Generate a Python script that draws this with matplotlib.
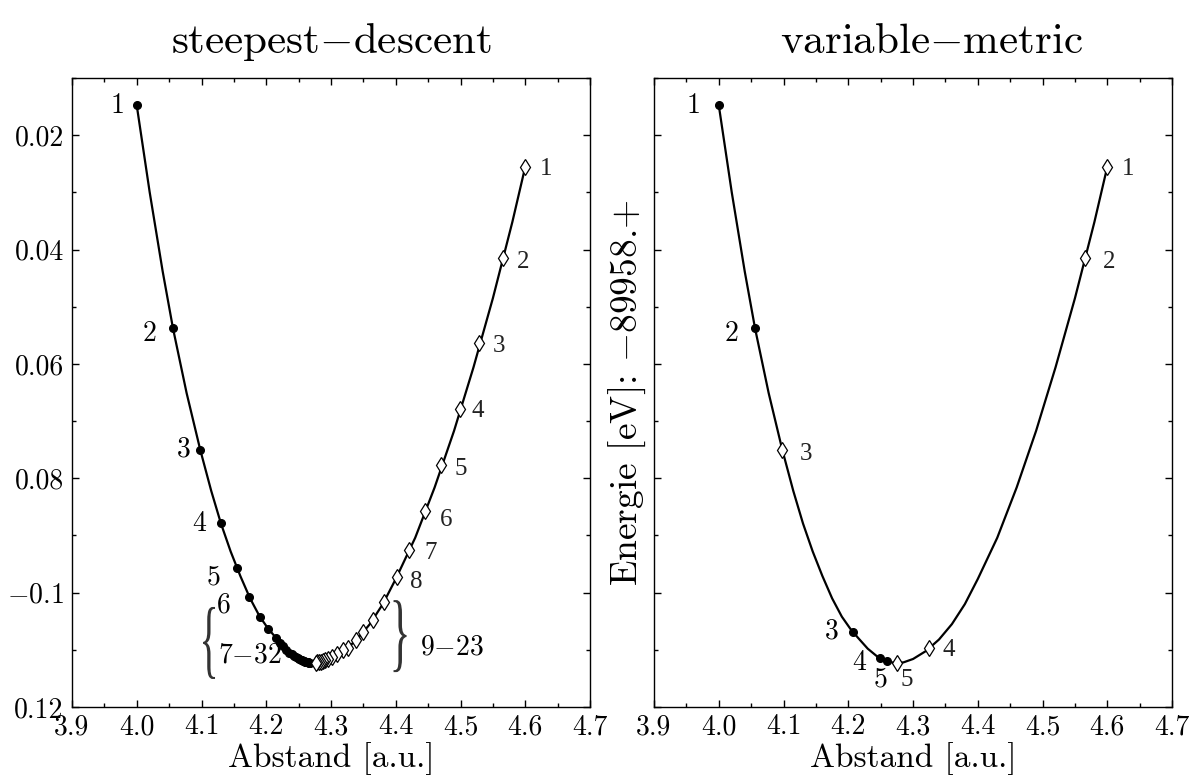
import matplotlib
matplotlib.use("Agg")
import matplotlib.pyplot as plt
import matplotlib.transforms as mtransforms
from matplotlib.ticker import MultipleLocator, FixedLocator, FixedFormatter
from matplotlib.textpath import TextPath
from matplotlib.patches import PathPatch
from matplotlib.font_manager import FontProperties

plt.rcParams['font.family'] = ['cmr10', 'DejaVu Serif']
plt.rcParams['mathtext.fontset'] = 'cm'
plt.rcParams['axes.unicode_minus'] = False

# energy curve (x in a.u., energy + 89958 eV)
curve_x = [4.000, 4.020, 4.040, 4.056, 4.077, 4.098, 4.115, 4.130, 4.145, 4.160,
           4.175, 4.190, 4.203, 4.215, 4.230, 4.245, 4.260, 4.272, 4.285, 4.300,
           4.320, 4.340, 4.360, 4.380, 4.400, 4.430, 4.460, 4.490, 4.520, 4.550,
           4.580, 4.600]
curve_y = [-0.0148, -0.0300, -0.0438, -0.0538, -0.0651, -0.0750, -0.0822, -0.0879, -0.0928, -0.0971,
           -0.1010, -0.1042, -0.1063, -0.1079, -0.1098, -0.1112, -0.1120, -0.1123, -0.1122, -0.1116,
           -0.1102, -0.1082, -0.1055, -0.1020, -0.0976, -0.0904, -0.0816, -0.0717, -0.0606, -0.0485,
           -0.0352, -0.0255]

# steepest-descent, start left (filled), points 1-32
sd_left_x = [4.000, 4.056, 4.098, 4.130, 4.155, 4.173, 4.190, 4.203, 4.215,
             4.221, 4.226, 4.231, 4.235, 4.239, 4.243, 4.246, 4.249, 4.251, 4.253,
             4.255, 4.257, 4.258, 4.259, 4.260, 4.261, 4.262, 4.263, 4.264, 4.265,
             4.266, 4.266, 4.267]
sd_left_y = [-0.0148, -0.0538, -0.0750, -0.0879, -0.0957, -0.1008, -0.1042, -0.1063, -0.1079,
             -0.1088, -0.1094, -0.1100, -0.1105, -0.1108, -0.1111, -0.1113, -0.1115, -0.1116, -0.1117,
             -0.1118, -0.1119, -0.1120, -0.1120, -0.1121, -0.1121, -0.1122, -0.1122, -0.1122, -0.1122,
             -0.1123, -0.1123, -0.1123]

# steepest-descent, start right (diamonds), points 1-23
sd_right_x = [4.600, 4.566, 4.529, 4.499, 4.470, 4.445, 4.420, 4.402,
              4.382, 4.365, 4.349, 4.339, 4.326, 4.319,
              4.309, 4.302, 4.296, 4.291, 4.287, 4.284, 4.281, 4.279, 4.277]
sd_right_y = [-0.0255, -0.0415, -0.0563, -0.0678, -0.0776, -0.0858, -0.0925, -0.0972,
              -0.1016, -0.1048, -0.1069, -0.1083, -0.1096, -0.1101,
              -0.1108, -0.1112, -0.1116, -0.1118, -0.1120, -0.1121, -0.1122, -0.1122, -0.1123]

# variable-metric
vm_left_x = [4.000, 4.056, 4.207, 4.249, 4.260]
vm_left_y = [-0.0148, -0.0538, -0.1068, -0.1115, -0.1120]
vm_right_x = [4.600, 4.566, 4.098, 4.325, 4.275]
vm_right_y = [-0.0255, -0.0415, -0.0750, -0.1097, -0.1123]

sd_left_labels = ['1', '2', '3', '4', '5', '6']
sd_left_offsets = [(-14, 0), (-17, -4), (-12, 0), (-16, 0), (-17, -7), (-18, -6)]
sd_right_labels = ['1', '2', '3', '4', '5', '6', '7', '8']
sd_right_offsets = [(15, -2), (14, -3), (14, -2), (13, -2), (14, -3), (15, -6), (16, -2), (14, -4)]
vm_left_labels = ['1', '2', '3', '4', '5']
vm_left_offsets = [(-18, 0), (-17, -4), (-15, 0), (-15, -3), (-5, -13)]
vm_right_labels = ['1', '2', '3', '4', '5']
vm_right_offsets = [(15, -2), (17, -3), (17, -3), (14, -1), (7, -12)]

xticks = [3.9, 4.0, 4.1, 4.2, 4.3, 4.4, 4.5, 4.6, 4.7]
xticklabels = ['3.9', '4.0', '4.1', '4.2', '4.3', '4.4', '4.5', '4.6', '4.7']
yticks = [-0.02, -0.04, -0.06, -0.08, -0.10, -0.12]
yticklabels = ['0.02', '0.04', '0.06', '0.08', '$-$0.1', '0.12']

fig = plt.figure(figsize=(11.92, 7.76), dpi=100)
ax1 = fig.add_axes([0.0604, 0.0889, 0.4346, 0.8106])
ax2 = fig.add_axes([0.5487, 0.0889, 0.4346, 0.8106])

label_font = dict(family='cmr10', fontsize=20)
dia_font = dict(family='Liberation Serif', fontsize=18, color='#222222')


def style(ax):
    ax.set_xlim(3.9, 4.7)
    ax.set_ylim(-0.12, -0.01)
    ax.xaxis.set_major_locator(FixedLocator(xticks))
    ax.xaxis.set_major_formatter(FixedFormatter(xticklabels))
    ax.xaxis.set_minor_locator(MultipleLocator(0.05))
    ax.yaxis.set_major_locator(FixedLocator(yticks))
    ax.yaxis.set_minor_locator(MultipleLocator(0.01))
    ax.tick_params(which='both', direction='in', top=True, right=True, width=1.0)
    ax.tick_params(which='major', length=5, labelsize=20)
    ax.tick_params(which='minor', length=3)
    ax.tick_params(axis='x', pad=5)
    ax.tick_params(axis='y', pad=6)
    for s in ax.spines.values():
        s.set_linewidth(1.0)
    ax.set_xlabel('Abstand [a.u.]', fontsize=24, labelpad=1)


def brace(ax, ch, x, y, w_px, h_px):
    # tall thin brace made from a stretched glyph, centred on (x, y)
    tp = TextPath((0, 0), ch, size=1, prop=FontProperties(family='Liberation Serif'))
    bb = tp.get_extents()
    tr = (mtransforms.Affine2D()
          .translate(-(bb.x0 + bb.x1) / 2, -(bb.y0 + bb.y1) / 2)
          .scale(w_px / bb.width, h_px / bb.height)
          + mtransforms.ScaledTranslation(x, y, ax.transData))
    ax.add_patch(PathPatch(tp, transform=tr, fc='#333333', ec='none', clip_on=False))


for ax in (ax1, ax2):
    style(ax)
    ax.plot(curve_x, curve_y, color='black', lw=1.6, zorder=2)

ax1.yaxis.set_major_formatter(FixedFormatter(yticklabels))
ax2.set_yticklabels([])

# left panel: steepest descent
ax1.plot(sd_left_x, sd_left_y, 'o', color='black', ms=5.5, zorder=3)
ax1.plot(sd_right_x, sd_right_y, 'd', mfc='white', mec='black', mew=0.9, ms=8, zorder=3)
for lab, x, y, off in zip(sd_left_labels, sd_left_x, sd_left_y, sd_left_offsets):
    ax1.annotate(lab, (x, y), xytext=off, textcoords='offset points',
                 ha='center', va='center', **label_font)
for lab, x, y, off in zip(sd_right_labels, sd_right_x, sd_right_y, sd_right_offsets):
    ax1.annotate(lab, (x, y), xytext=off, textcoords='offset points',
                 ha='center', va='center', **dia_font)
brace(ax1, '{', 4.1116, -0.1088, 12, 72)
ax1.text(4.1255, -0.1109, '7$-$32', fontsize=20, ha='left', va='center')
brace(ax1, '}', 4.4066, -0.1076, 13, 72)
ax1.text(4.4375, -0.1095, '9$-$23', fontsize=20, ha='left', va='center')
ax1.set_title('steepest$-$descent', fontsize=31, pad=18)

# right panel: variable metric
ax2.plot(vm_left_x, vm_left_y, 'o', color='black', ms=5.5, zorder=3)
ax2.plot(vm_right_x, vm_right_y, 'd', mfc='white', mec='black', mew=0.9, ms=8, zorder=3)
for lab, x, y, off in zip(vm_left_labels, vm_left_x, vm_left_y, vm_left_offsets):
    ax2.annotate(lab, (x, y), xytext=off, textcoords='offset points',
                 ha='center', va='center', **label_font)
for lab, x, y, off in zip(vm_right_labels, vm_right_x, vm_right_y, vm_right_offsets):
    ax2.annotate(lab, (x, y), xytext=off, textcoords='offset points',
                 ha='center', va='center', **dia_font)
ax2.set_title('variable$-$metric', fontsize=31, pad=18, x=0.535)
ax2.set_ylabel('Energie [eV]: $-$89958.+', fontsize=27, labelpad=-2)

fig.savefig('out.png', dpi=100)
